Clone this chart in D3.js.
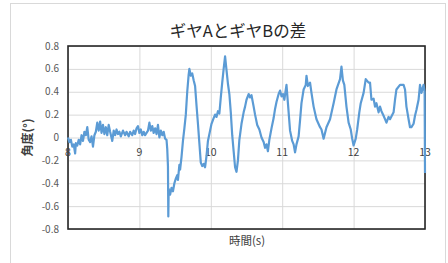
<!DOCTYPE html>
<html>
<head>
<meta charset="utf-8">
<script src="https://cdn.jsdelivr.net/npm/d3@7"></script>
<style>
  body { margin: 0; background: #fff; }
  text { font-family: "Noto Sans CJK JP", "Noto Sans", sans-serif; }
  .grid line { stroke: #d9d9d9; stroke-width: 1; }
  .grid path { display: none; }
</style>
</head>
<body>
<svg width="448" height="263"></svg>
<script>
const title = "ギヤAとギヤBの差";
const xTitle = "時間(s)";
const yTitle = "角度(°)";
const xTicks = [8, 9, 10, 11, 12, 13];
const yTicks = [-0.8, -0.6, -0.4, -0.2, 0, 0.2, 0.4, 0.6, 0.8];

// 時間(s)
const time = [
  8.00, 8.02, 8.04, 8.06, 8.08, 8.10, 8.11, 8.13, 8.15, 8.17, 8.19, 8.21, 8.23, 8.25, 8.27, 8.29,
  8.31, 8.33, 8.35, 8.37, 8.39, 8.41, 8.43, 8.45, 8.47, 8.49, 8.51, 8.53, 8.55, 8.57, 8.59, 8.62,
  8.64, 8.66, 8.68, 8.70, 8.72, 8.74, 8.77, 8.80, 8.82, 8.85, 8.87, 8.90, 8.92, 8.94, 8.96, 8.98,
  9.00, 9.02, 9.04, 9.06, 9.08, 9.10, 9.12, 9.14, 9.16, 9.18, 9.20, 9.22, 9.24, 9.26, 9.28, 9.30,
  9.32, 9.34, 9.36, 9.38, 9.39, 9.40, 9.405, 9.41, 9.43, 9.45, 9.47, 9.49, 9.51, 9.53, 9.54, 9.56,
  9.57, 9.59, 9.61, 9.63, 9.65, 9.67, 9.69, 9.70, 9.72, 9.74, 9.76, 9.78, 9.80, 9.82, 9.84, 9.86,
  9.88, 9.90, 9.92, 9.94, 9.96, 9.99, 10.01, 10.04, 10.06, 10.08, 10.10, 10.12, 10.14, 10.16, 10.18, 10.20,
  10.22, 10.24, 10.26, 10.28, 10.30, 10.32, 10.34, 10.36, 10.38, 10.40, 10.43, 10.46, 10.48, 10.50, 10.53, 10.55,
  10.57, 10.60, 10.62, 10.65, 10.68, 10.71, 10.74, 10.76, 10.78, 10.80, 10.82, 10.85, 10.88, 10.90, 10.92, 10.95,
  10.97, 10.99, 11.01, 11.03, 11.06, 11.08, 11.11, 11.14, 11.16, 11.18, 11.20, 11.23, 11.25, 11.27, 11.30, 11.33,
  11.34, 11.36, 11.39, 11.41, 11.44, 11.48, 11.53, 11.55, 11.58, 11.60, 11.62, 11.67, 11.72, 11.76, 11.81, 11.83,
  11.85, 11.87, 11.90, 11.93, 11.96, 11.98, 12.00, 12.03, 12.05, 12.08, 12.10, 12.14, 12.17, 12.21, 12.23, 12.25,
  12.28, 12.30, 12.32, 12.35, 12.37, 12.39, 12.42, 12.44, 12.46, 12.49, 12.51, 12.56, 12.58, 12.60, 12.65, 12.70,
  12.72, 12.74, 12.77, 12.79, 12.81, 12.84, 12.86, 12.88, 12.91, 12.93, 12.95, 12.98, 12.995, 13.00
];

// 角度(°)
const angle = [
  0.00, -0.04, -0.02, -0.08, -0.06, -0.14, -0.05, -0.07, -0.02, -0.06, 0.02, -0.03, 0.05, 0.02, 0.09, -0.02,
  -0.04, 0.01, -0.08, 0.02, 0.05, 0.13, 0.06, 0.14, 0.04, 0.11, 0.03, 0.09, 0.02, 0.11, 0.05, -0.03,
  0.06, 0.02, 0.07, 0.03, 0.05, 0.01, 0.06, 0.02, 0.05, 0.01, 0.05, 0.02, 0.06, 0.03, 0.08, 0.10,
  0.04, 0.07, 0.02, 0.05, 0.02, 0.04, 0.06, 0.13, 0.06, 0.10, 0.04, 0.08, 0.03, 0.11, 0.00, 0.06,
  0.02, 0.05, -0.01, -0.02, -0.10, -0.25, -0.69, -0.45, -0.50, -0.44, -0.47, -0.40, -0.36, -0.33, -0.37, -0.24,
  -0.28, -0.17, -0.03, 0.08, 0.20, 0.40, 0.55, 0.60, 0.54, 0.56, 0.50, 0.45, 0.28, 0.12, -0.05, -0.22,
  -0.25, -0.23, -0.26, -0.16, -0.03, 0.06, 0.12, 0.17, 0.20, 0.18, 0.23, 0.21, 0.35, 0.48, 0.60, 0.71,
  0.59, 0.47, 0.38, 0.22, 0.02, -0.12, -0.26, -0.30, -0.20, -0.02, 0.12, 0.22, 0.27, 0.33, 0.38, 0.35,
  0.37, 0.27, 0.20, 0.11, 0.07, 0.00, -0.04, -0.09, -0.06, -0.12, -0.02, 0.08, 0.17, 0.25, 0.31, 0.38,
  0.41, 0.36, 0.38, 0.33, 0.46, 0.30, 0.06, -0.03, -0.06, -0.13, -0.06, 0.01, 0.15, 0.30, 0.42, 0.46,
  0.54, 0.45, 0.48, 0.39, 0.27, 0.16, 0.09, 0.07, -0.01, 0.04, 0.09, 0.16, 0.30, 0.42, 0.51, 0.62,
  0.50, 0.46, 0.27, 0.13, 0.07, -0.01, -0.07, -0.01, 0.07, 0.22, 0.30, 0.39, 0.51, 0.48, 0.48, 0.33,
  0.34, 0.27, 0.30, 0.22, 0.27, 0.23, 0.19, 0.16, 0.13, 0.18, 0.16, 0.22, 0.33, 0.42, 0.46, 0.46,
  0.42, 0.27, 0.16, 0.09, 0.09, 0.12, 0.19, 0.24, 0.33, 0.46, 0.39, 0.46, 0.40, -0.31
];

const svg = d3.select("svg");
const plot = { left: 68, right: 425, top: 46, bottom: 229 };

svg.append("rect")
  .attr("x", 10.5).attr("y", 3.5)
  .attr("width", 435).attr("height", 280)
  .attr("fill", "#fff").attr("stroke", "#d9d9d9");

const x = d3.scaleLinear().domain([8, 13]).range([plot.left, plot.right]);
const y = d3.scaleLinear().domain([-0.8, 0.8]).range([plot.bottom, plot.top]);

// グリッド線
svg.append("g").attr("class", "grid")
  .attr("transform", `translate(0,${plot.bottom})`)
  .call(d3.axisBottom(x).tickValues(xTicks).tickSize(-(plot.bottom - plot.top)).tickFormat(""));
svg.append("g").attr("class", "grid")
  .attr("transform", `translate(${plot.left},0)`)
  .call(d3.axisLeft(y).tickValues(yTicks).tickSize(-(plot.right - plot.left)).tickFormat(""));

// プロットエリア枠
svg.append("rect")
  .attr("x", plot.left).attr("y", plot.top)
  .attr("width", plot.right - plot.left).attr("height", plot.bottom - plot.top)
  .attr("fill", "none").attr("stroke", "#262626").attr("stroke-width", 1.6);

// Y軸ラベル
svg.append("g").selectAll("text")
  .data(yTicks)
  .enter().append("text")
  .attr("x", plot.left - 9)
  .attr("y", d => y(d) + 3.5)
  .attr("text-anchor", "end")
  .attr("font-size", 10)
  .attr("fill", "#595959")
  .text(d => d3.format(".1f")(d).replace("0.0", "0").replace("−", "-"));

// X軸ラベル (0の位置)
svg.append("g").selectAll("text")
  .data(xTicks)
  .enter().append("text")
  .attr("x", d => x(d))
  .attr("y", y(0) + 18)
  .attr("text-anchor", "middle")
  .attr("font-size", 10.5)
  .attr("fill", "#404040")
  .text(d => d);

// データ線
const pts = time.map((t, i) => [t, angle[i]]);
svg.append("path")
  .datum(pts)
  .attr("fill", "none")
  .attr("stroke", "#5b9bd5")
  .attr("stroke-width", 2.2)
  .attr("stroke-linejoin", "round")
  .attr("d", d3.line().x(d => x(d[0])).y(d => y(d[1])));

// タイトル
svg.append("text")
  .attr("x", 238).attr("y", 37)
  .attr("text-anchor", "middle")
  .attr("font-size", 16.5)
  .attr("fill", "#262626")
  .text(title);

svg.append("text")
  .attr("x", 247).attr("y", 245)
  .attr("text-anchor", "middle")
  .attr("font-size", 11.5)
  .attr("fill", "#404040")
  .text(xTitle);

svg.append("text")
  .attr("transform", `translate(32,${y(0)}) rotate(-90)`)
  .attr("text-anchor", "middle")
  .attr("font-size", 12)
  .attr("font-weight", "bold")
  .attr("fill", "#404040")
  .text(yTitle);
</script>
</body>
</html>
